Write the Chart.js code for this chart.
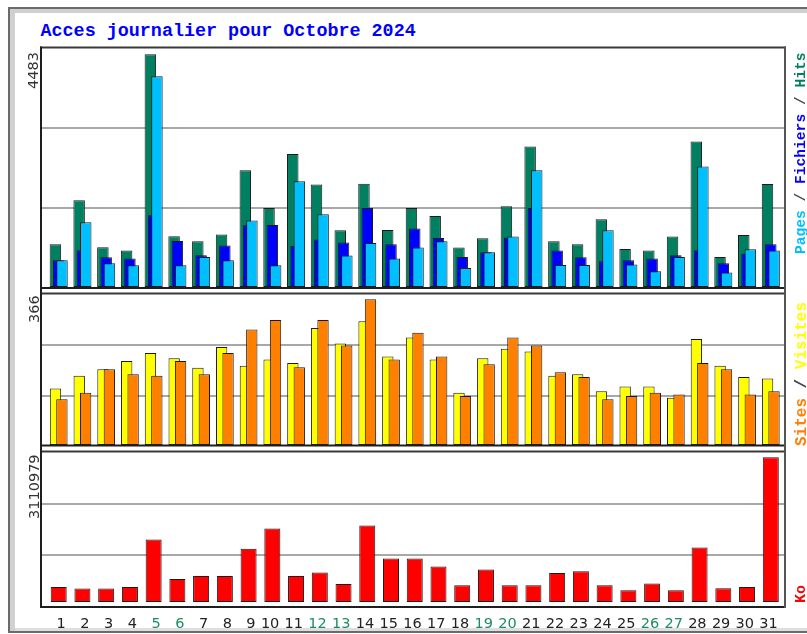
<!DOCTYPE html>
<html>
<head>
<meta charset="utf-8">
<script src="https://cdn.jsdelivr.net/npm/chart.js"></script>
<style>
html,body{margin:0;padding:0;background:#fff;overflow:hidden;}
#wrap{position:relative;width:807px;height:634px;overflow:hidden;background:#fff;}
#wrap canvas{position:absolute;left:0;top:0;}
.frame{position:absolute;left:8px;top:7px;width:860px;height:622px;border-top:2px solid #6a6a6a;border-left:2px solid #6a6a6a;border-bottom:2px solid #6a6a6a;box-shadow:inset 5px 4px 0 #d0d0d0, inset 0 -3px 0 #dedede;}
.title{position:absolute;left:40.5px;top:23.2px;font:bold 18.4px 'Liberation Mono',monospace;line-height:1;color:#0000ff;white-space:pre;}
.rot{position:absolute;transform-origin:0 0;transform:rotate(-90deg);white-space:pre;line-height:1;}
.maxlab{font:14.5px 'DejaVu Sans',sans-serif;color:#333;}
.leg{font-family:'Liberation Mono',monospace;font-weight:bold;color:#444;}
</style>
</head>
<body>
<div id="wrap">
  <div class="frame"></div>
  <div class="title" id="title"></div>
  <canvas id="c1" width="807" height="634" style="width:807px;height:634px"></canvas>
  <canvas id="c2" width="807" height="634" style="width:807px;height:634px"></canvas>
  <canvas id="c3" width="807" height="634" style="width:807px;height:634px"></canvas>
</div>
<script>
// ---------- DATA ----------
const titleText = 'Acces journalier pour Octobre 2024';
const days = [1,2,3,4,5,6,7,8,9,10,11,12,13,14,15,16,17,18,19,20,21,22,23,24,25,26,27,28,29,30,31];
const dayLabels = ['1','2','3','4','5','6','7','8','9','10','11','12','13','14','15','16','17','18','19','20','21','22','23','24','25','26','27','28','29','30','31'];
const weekendDays = [5,6,12,13,19,20,26,27];
const hits     = [824,1672,766,702,4483,978,882,1011,2251,1524,2560,1975,1094,1990,1098,1524,1370,760,939,1557,2708,882,824,1306,733,702,972,2805,579,1003,1985];
const fichiers = [515,708,573,548,1383,887,611,799,1188,1195,791,914,856,1524,824,1127,945,579,669,953,1524,702,573,496,515,548,611,708,457,644,824];
const pages    = [515,1248,457,419,4059,419,579,515,1281,419,2039,1402,606,849,548,760,882,367,669,972,2251,424,424,1094,432,303,579,2323,278,727,702];
const visites  = [142,174,190,211,231,218,194,246,199,215,206,294,255,311,222,270,215,131,218,242,235,174,178,135,147,147,119,266,199,171,167];
const sites    = [115,131,190,178,174,211,178,231,290,314,195,314,250,366,215,282,222,123,203,270,250,183,171,115,123,131,127,206,190,127,135];
const ko       = [322841,288517,289102,323460,1344210,495873,560318,559904,1142377,1581026,560745,633180,388214,1646092,935317,934870,763441,360185,698232,359706,360412,624918,661357,359988,252106,396274,251873,1172305,294819,322967,3110979];
const maxLabels = ['4483','366','3110979'];
const seriesNames = {hits:'Hits', fichiers:'Fichiers', pages:'Pages', visites:'Visites', sites:'Sites', ko:'Ko'};

// ---------- STYLE / LAYOUT ----------
const COL = {hits:'#008060', fichiers:'#0000ff', pages:'#00bfff', visites:'#ffff00', sites:'#ff8000', ko:'#ff0000'};
const EDGE = '#1a1a1a';
const WEEKEND = '#1e8c5e';
const CW = 807, CH = 634;
const AREA_L = 41, AREA_R = 785;
const FIRST_PX = 58.7, LAST_PX = 770.8;
const step = (LAST_PX - FIRST_PX) / (days.length - 1);
const X_MIN = days[0] - (FIRST_PX - AREA_L) / step;
const X_MAX = days[days.length - 1] + (AREA_R - LAST_PX) / step;

document.getElementById('title').textContent = titleText;

const panels = [
  {id:'c1', top:47.5, bottom:288, base:287, maxTop:54.3, gTop:48, gBottom:288, lineTo:293.5,
   series:[['hits',hits],['fichiers',fichiers],['pages',pages]], cat:0.417, bar:3.48},
  {id:'c2', top:293.5, bottom:445.5, base:445, maxTop:299.3, gTop:293, gBottom:448, lineTo:451.5,
   series:[['visites',visites],['sites',sites]], cat:0.54, bar:1.77},
  {id:'c3', top:451.5, bottom:607, base:602, maxTop:457.3, gTop:452, gBottom:607, lineTo:608,
   series:[['ko',ko]], cat:0.674, bar:1}
];

const ltrPlugin = {
  id:'ltr',
  beforeDatasetDraw(){ return false; },
  afterDatasetsDraw(chart){
    for (let i = 0; i < chart.data.datasets.length; i++) {
      const meta = chart.getDatasetMeta(i);
      if (!meta.hidden) meta.controller.draw();
    }
  }
};

const boxPlugin = {
  id:'box',
  afterDraw(chart, args, opts){
    const ctx = chart.ctx, a = chart.chartArea;
    ctx.save();
    ctx.lineWidth = 2;
    ctx.strokeStyle = '#3a3a3a';
    ctx.beginPath(); ctx.moveTo(AREA_L - 1, a.top); ctx.lineTo(AREA_R + 1, a.top); ctx.stroke();
    ctx.strokeStyle = '#1e1e1e';
    ctx.beginPath(); ctx.moveTo(AREA_L - 1, a.bottom); ctx.lineTo(AREA_R + 1, a.bottom); ctx.stroke();
    ctx.beginPath(); ctx.moveTo(AREA_L, a.top - 1); ctx.lineTo(AREA_L, opts.lineTo); ctx.stroke();
    ctx.strokeStyle = '#555';
    ctx.beginPath(); ctx.moveTo(AREA_R, a.top - 1); ctx.lineTo(AREA_R, opts.lineTo); ctx.stroke();
    ctx.restore();
  }
};

panels.forEach((p, pi) => {
  const maxVal = Math.max(...p.series.map(s => Math.max(...s[1])));
  const k = (p.base - p.maxTop) / maxVal;
  const yMax = (p.base - p.top) / k;
  const yMin = -(p.bottom - p.base) / k;
  const gridVals = [1, 2].map(i => (p.base - (p.gTop + (p.gBottom - p.gTop) * i / 3)) / k);
  const isLast = pi === panels.length - 1;
  new Chart(document.getElementById(p.id), {
    type:'bar',
    data:{
      labels: days,
      datasets: p.series.map(([key, arr]) => ({
        label: seriesNames[key], data: arr,
        backgroundColor: COL[key], borderColor: EDGE, borderWidth: 1, borderSkipped: false,
        categoryPercentage: p.cat, barPercentage: p.bar
      }))
    },
    options:{
      responsive:false, animation:false, devicePixelRatio:1,
      layout:{padding:{left:AREA_L, right:CW - AREA_R, top:p.top, bottom: isLast ? 0 : CH - p.bottom}},
      plugins:{legend:{display:false}, tooltip:{enabled:false}, title:{display:false}, box:{lineTo:p.lineTo}},
      scales:{
        x:{
          type:'linear', min:X_MIN, max:X_MAX, offset:false, display:isLast,
          grid:{display:false, drawTicks:false, offset:false},
          border:{display:false},
          afterBuildTicks: s => { s.ticks = days.map(d => ({value:d})); },
          afterFit: s => { if (isLast) s.height = CH - p.bottom; },
          ticks:{
            autoSkip:false, maxRotation:0, minRotation:0, align:'end', labelOffset:7, padding:8.5,
            font:{family:'DejaVu Sans', size:14.5},
            color: c => (c.tick && weekendDays.includes(c.tick.value)) ? WEEKEND : '#222',
            callback: v => dayLabels[days.indexOf(v)]
          }
        },
        y:{
          type:'linear', min:yMin, max:yMax, display:true,
          grid:{display:true, drawTicks:false, color:'#a8a8a8', lineWidth:2},
          border:{display:false},
          ticks:{display:false},
          afterBuildTicks: s => { s.ticks = gridVals.map(v => ({value:v})); },
          afterFit: s => { s.width = 0; }
        }
      }
    },
    plugins: [ltrPlugin, boxPlugin]
  });
});

// ---------- TEXT LABELS ----------
const wrap = document.getElementById('wrap');
function rot(html, cls, left, bottom, extra){
  const d = document.createElement('div');
  d.className = 'rot ' + cls;
  d.style.left = left + 'px';
  d.style.top = bottom + 'px';
  if (extra) Object.assign(d.style, extra);
  d.innerHTML = html;
  wrap.appendChild(d);
}
rot(maxLabels[0], 'maxlab', 25.3, 89);
rot(maxLabels[1], 'maxlab', 25.5, 322.5);
rot(maxLabels[2], 'maxlab', 25.5, 519);
const sp = (k) => '<span style="color:' + COL[k] + '">' + seriesNames[k] + '</span>';
rot(sp('pages') + ' / ' + sp('fichiers') + ' / ' + sp('hits'), 'leg', 793.5, 254, {fontSize:'14.6px'});
rot(sp('sites') + ' / ' + sp('visites'), 'leg', 794, 446, {fontSize:'16px'});
rot(sp('ko'), 'leg', 793.5, 603, {fontSize:'15px'});
</script>
</body>
</html>
